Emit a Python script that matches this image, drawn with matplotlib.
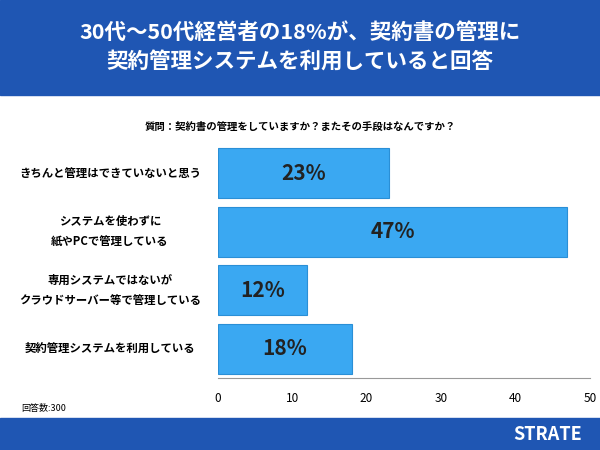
import matplotlib
matplotlib.use("Agg")
import matplotlib.pyplot as plt
import matplotlib.transforms as mtransforms
from matplotlib.patches import Rectangle

plt.rcParams["font.family"] = "Noto Sans CJK JP"

categories = ["きちんと管理はできていないと思う",
              "システムを使わずに\n紙やPCで管理している",
              "専用システムではないが\nクラウドサーバー等で管理している",
              "契約管理システムを利用している"]
values = [23, 47, 12, 18]
xticks = [0, 10, 20, 30, 40, 50]

fig = plt.figure(figsize=(6, 4.5), dpi=100)
fig.patches.append(Rectangle((0, 1 - 95/450), 1, 95/450, transform=fig.transFigure, color="#1f56b3", zorder=0))
fig.patches.append(Rectangle((0, 0), 1, 32/450, transform=fig.transFigure, color="#1f56b3", zorder=0))
fig.text(0.5, 1 - 47/450, "30代〜50代経営者の18%が、契約書の管理に\n契約管理システムを利用していると回答",
         color="white", fontsize=15.5, fontweight="bold", ha="center", va="center", linespacing=1.5)
fig.text(0.5, 1 - 127/450, "質問：契約書の管理をしていますか？またその手段はなんですか？",
         fontsize=7.5, ha="center", va="center", fontweight="bold")
fig.text(0.035, 1 - 408/450, "回答数:300", fontsize=6.5, ha="left", va="center")
fig.text(0.97, 16/450, "STRATE", color="white", fontsize=13, fontweight="bold", ha="right", va="center")

ax = fig.add_axes([0.363, 0.16, 0.62, 0.52])
y = list(range(len(categories)))
ax.barh(y, values, height=0.86, color="#3aa8f2", edgecolor="#2a8fd6", linewidth=0.8)
for i, v in enumerate(values):
    ax.text(v / 2, i, f"{v}%", ha="center", va="center", fontsize=15, fontweight="bold", color="#222222")
trans = mtransforms.blended_transform_factory(fig.transFigure, ax.transData)
for i, c in enumerate(categories):
    ax.text(110/600, i, c, transform=trans, ha="center", va="center", fontsize=8.2,
            fontweight="bold", linespacing=1.7, multialignment="center", clip_on=False)
ax.set_yticks([])
ax.set_xlim(0, 50)
ax.set_ylim(3.5, -0.5)
ax.set_xticks(xticks)
ax.tick_params(axis="x", labelsize=8.5, length=0, pad=10)
for s in ["top", "right", "left"]:
    ax.spines[s].set_visible(False)
ax.spines["bottom"].set_color("#999999")
fig.savefig("out.png", dpi=100)
